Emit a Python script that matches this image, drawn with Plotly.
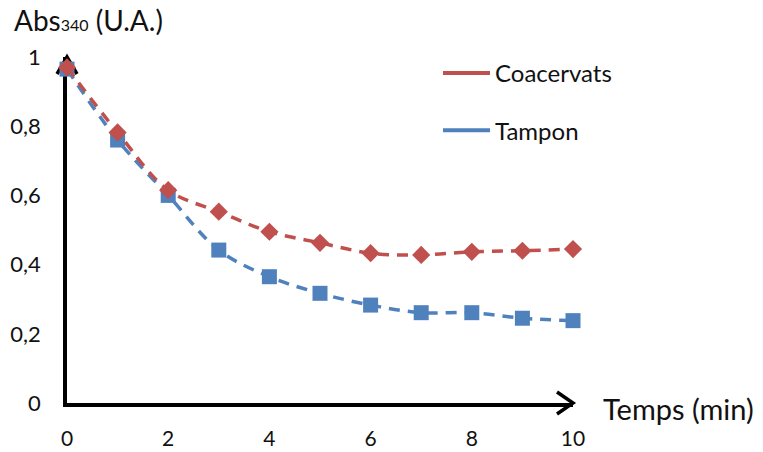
import plotly.graph_objects as go

# ---- data ----
temps = [0, 1, 2, 3, 4, 5, 6, 7, 8, 9, 10]
coacervats = [0.970, 0.782, 0.615, 0.553, 0.495, 0.463, 0.433, 0.428, 0.437, 0.440, 0.445]
tampon = [0.965, 0.760, 0.600, 0.442, 0.365, 0.317, 0.283, 0.261, 0.261, 0.245, 0.238]

x_tickvals = [0, 2, 4, 6, 8, 10]
x_ticktext = ["0", "2", "4", "6", "8", "10"]
y_tickvals = [0, 0.2, 0.4, 0.6, 0.8, 1]
y_ticktext = ["0", "0,2", "0,4", "0,6", "0,8", "1"]

series_names = ["Coacervats", "Tampon"]

RED = "#C0504D"
BLUE = "#4F81BD"
TXT = "#111111"
FONT = "Lato"

W, H = 763, 452
PW, PH = 506, 346
ML, MT = 67, 57
MR, MB = W - ML - PW, H - MT - PH


def px(p):  # window pixel -> paper x
    return (p - ML) / PW


def py(p):  # window pixel -> paper y
    return (MT + PH - p) / PH


fig = go.Figure()

# data traces (blue first so the red diamonds sit on top)
fig.add_trace(go.Scatter(
    x=temps, y=tampon, mode="lines+markers", showlegend=False, cliponaxis=False,
    line=dict(color=BLUE, width=3.5, dash="11px,8px", shape="spline", smoothing=1),
    marker=dict(symbol="square", size=15, color=BLUE),
))
fig.add_trace(go.Scatter(
    x=temps, y=coacervats, mode="lines+markers", showlegend=False, cliponaxis=False,
    line=dict(color=RED, width=3.5, dash="11px,8px", shape="spline", smoothing=1),
    marker=dict(symbol="diamond", size=14, color=RED),
))

# legend entries (solid lines, as in the reference)
fig.add_trace(go.Scatter(x=[None], y=[None], mode="lines", name=series_names[0],
                         legendgroup="c", line=dict(color=RED, width=4)))
fig.add_trace(go.Scatter(x=[None], y=[None], mode="lines", name=series_names[1],
                         legendgroup="t", line=dict(color=BLUE, width=4)))

axis_common = dict(
    showline=True, linecolor="black", linewidth=3.5, showgrid=False, zeroline=False,
    ticks="", layer="below traces", fixedrange=True, automargin=False,
)

fig.update_layout(
    width=W, height=H,
    margin=dict(l=ML, r=MR, t=MT, b=MB, autoexpand=False),
    paper_bgcolor="white", plot_bgcolor="white",
    font=dict(family=FONT, color=TXT),
    xaxis=dict(range=[0, 10], tickvals=x_tickvals, ticktext=x_ticktext,
               ticklabelstandoff=14, tickfont=dict(family=FONT, size=21, color=TXT),
               **axis_common),
    yaxis=dict(range=[0, 1], tickvals=y_tickvals, ticktext=y_ticktext,
               ticklabelstandoff=18, tickfont=dict(family=FONT, size=22, color=TXT),
               **axis_common),
    legend=dict(x=px(438), y=py(51), xanchor="left", yanchor="top",
                font=dict(family=FONT, size=24, color=TXT), itemwidth=47,
                tracegroupgap=23, bgcolor="rgba(0,0,0,0)"),
)

# arrow heads at the ends of both axes
dx, dy = 16 / PW, 11 / PH
fig.add_shape(type="path", xref="paper", yref="paper", layer="below",
              path=f"M {1 - dx},{dy} L 1,0 L {1 - dx},{-dy}",
              line=dict(color="black", width=3.5))
dx2, dy2 = 10 / PW, 17 / PH
fig.add_shape(type="path", xref="paper", yref="paper", layer="below",
              path=f"M {-dx2},{1 - dy2} L 0,1 L {dx2},{1 - dy2}",
              line=dict(color="black", width=3.5))

# axis titles
fig.add_annotation(xref="paper", yref="paper", x=px(12), y=py(20),
                   xanchor="left", yanchor="middle", showarrow=False,
                   text='Abs<span style="font-size:16px">340</span> (U.A.)',
                   font=dict(family=FONT, size=28, color=TXT))
fig.add_annotation(xref="paper", yref="paper", x=px(601), y=py(408),
                   xanchor="left", yanchor="middle", showarrow=False,
                   text="Temps (min)", font=dict(family=FONT, size=29, color=TXT))

# remove the default 8px page margin so the figure fills the window exactly
fig.write_html("out.html", config={"displayModeBar": False},
               post_script="document.body.style.margin='0';document.body.style.overflow='hidden';")
